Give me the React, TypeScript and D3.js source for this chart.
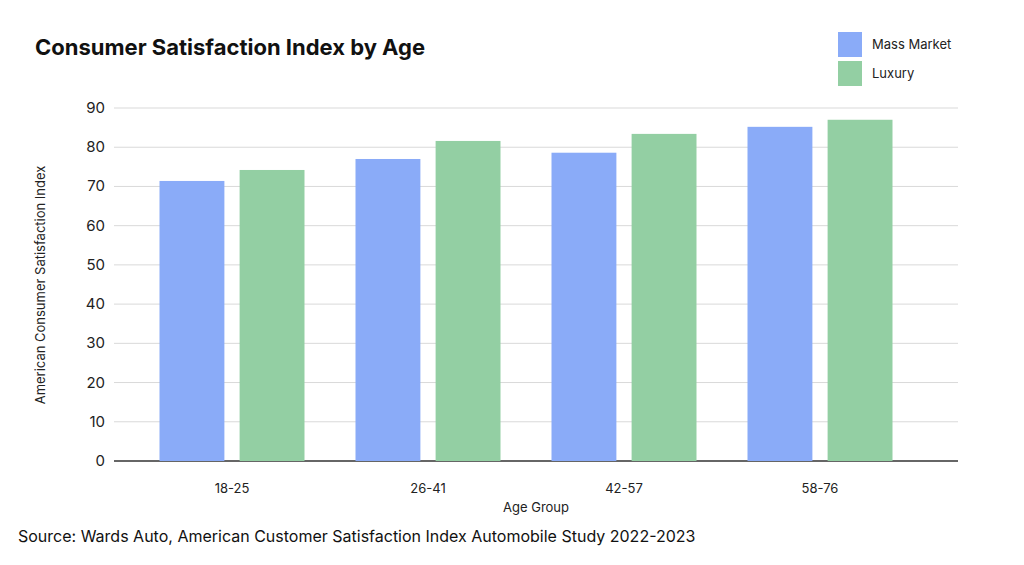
import * as d3 from "d3";

const categories = ["18-25", "26-41", "42-57", "58-76"];
const massMarket = [71.4, 77.0, 78.6, 85.2];
const luxury = [74.2, 81.6, 83.4, 87.0];
const seriesNames = ["Mass Market", "Luxury"];
const colors = ["#8aabf8", "#93cfa3"];
const yTicks = [0, 10, 20, 30, 40, 50, 60, 70, 80, 90];

export default function App() {
  const width = 1024, height = 565;
  const x = d3.scaleBand().domain(categories).range([134, 918]).paddingInner(0).paddingOuter(0);
  const inner = d3.scaleBand().domain(seriesNames).range([25.5, 170.5]).paddingInner(0.19);
  const y = d3.scaleLinear().domain([0, 90]).range([461, 108]);
  const font = "Inter, 'Open Sans', sans-serif";
  const series = [massMarket, luxury];

  return (
    <svg width={width} height={height} style={{ position: "absolute", left: 0, top: 0, background: "#fff" }} fontFamily={font}>
      <rect width={width} height={height} fill="#fff" />
      <text x={35} y={55} fontSize={22} fontWeight={700} fill="#111">Consumer Satisfaction Index by Age</text>
      {seriesNames.map((s, i) => (
        <g key={s}>
          <rect x={838} y={32 + i * 29} width={24} height={25} fill={colors[i]} />
          <text x={872} y={49 + i * 29} fontSize={13} fill="#222">{s}</text>
        </g>
      ))}
      {yTicks.map((t) => (
        <g key={t}>
          <line x1={114} x2={958} y1={y(t)} y2={y(t)} stroke={t === 0 ? "#333" : "#d9d9d9"} strokeWidth={t === 0 ? 1.5 : 1} />
          <text x={105} y={y(t) + 5} fontSize={15} textAnchor="end" fill="#222">{t}</text>
        </g>
      ))}
      {categories.map((c, ci) => (
        <g key={c}>
          {series.map((vals, si) => (
            <rect key={si} x={x(c)! + inner(seriesNames[si])!} y={y(vals[ci])} width={inner.bandwidth()} height={y(0) - y(vals[ci])} fill={colors[si]} />
          ))}
          <text x={x(c)! + x.bandwidth() / 2} y={493} fontSize={13} textAnchor="middle" fill="#222">{c}</text>
        </g>
      ))}
      <text x={536} y={512} fontSize={13} textAnchor="middle" fill="#222">Age Group</text>
      <text transform="translate(45,285) rotate(-90)" fontSize={13} textAnchor="middle" fill="#222">American Consumer Satisfaction Index</text>
      <text x={18} y={542} fontSize={16} fill="#111">Source: Wards Auto, American Customer Satisfaction Index Automobile Study 2022-2023</text>
    </svg>
  );
}
